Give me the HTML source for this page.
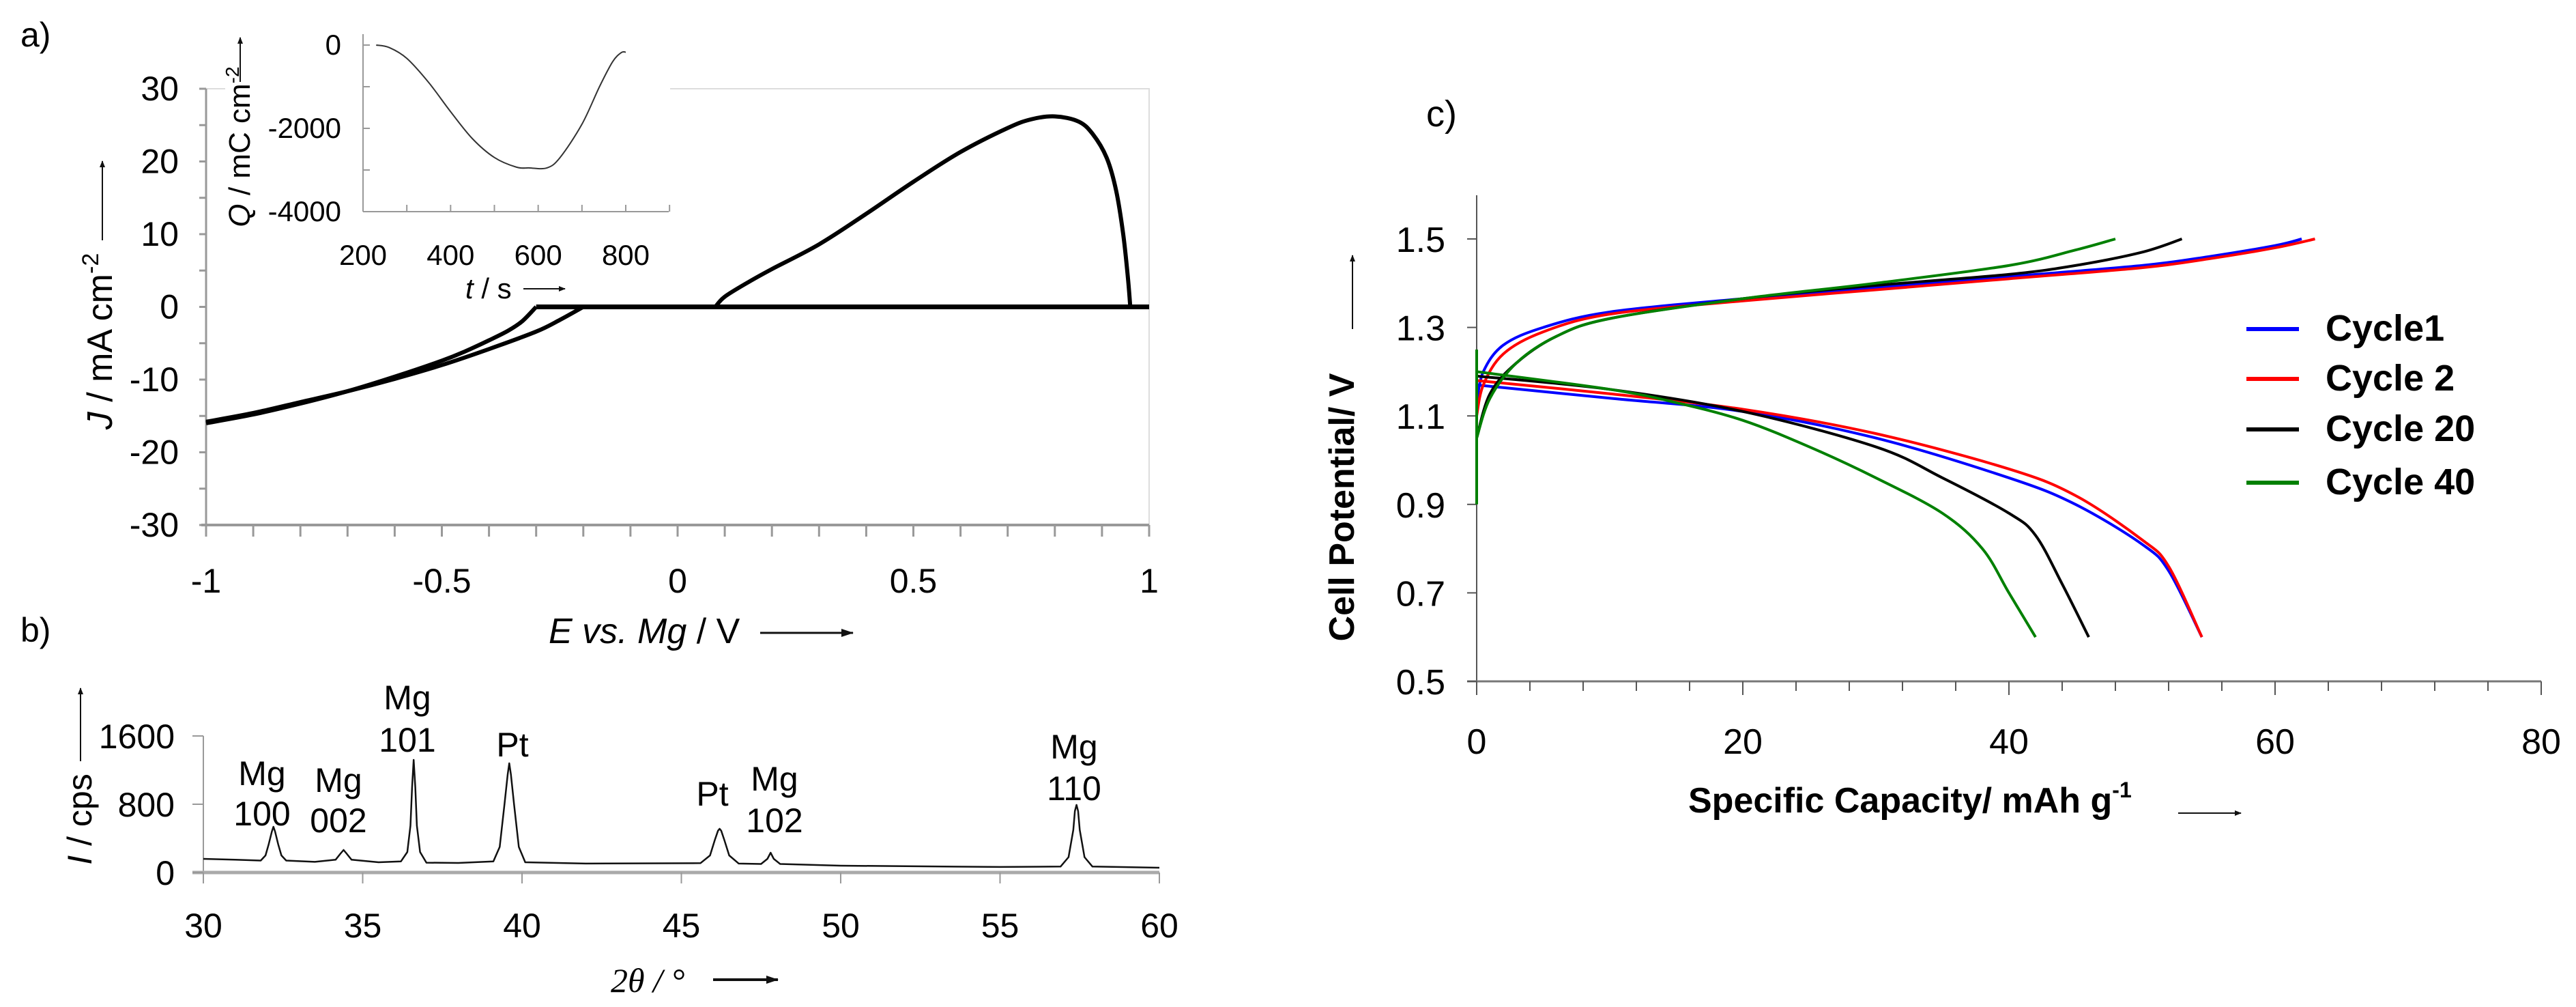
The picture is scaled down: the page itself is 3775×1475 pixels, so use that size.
<!DOCTYPE html>
<html><head><meta charset="utf-8"><style>
body{margin:0;background:#fff}
svg{display:block;font-family:"Liberation Sans Narrow","Liberation Sans",sans-serif}
</style></head><body>
<svg id="fig" width="3775" height="1475" viewBox="0 0 3775 1475" xmlns="http://www.w3.org/2000/svg">
<defs><marker id="ar" markerWidth="10" markerHeight="8" refX="9" refY="4" orient="auto" markerUnits="userSpaceOnUse" viewBox="0 0 10 8"><path d="M0,0L10,4L0,8z" fill="#111"/></marker>
<marker id="ar2" markerWidth="18" markerHeight="12" refX="17" refY="6" orient="auto" markerUnits="userSpaceOnUse" viewBox="0 0 18 12"><path d="M0,0L18,6L0,12z" fill="#111"/></marker></defs>
<g id="ga"></g>
<g id="gi"></g>
<g id="gb"></g>
<g id="gc"></g>
</svg>
<script>
// ---- Panel a: CV data ----
const cvBranchA_E=[-1,-0.9,-0.8,-0.7,-0.6,-0.5,-0.45,-0.4,-0.36,-0.33,-0.3];
const cvBranchA_J=[-16,-14.8,-13.3,-11.6,-9.6,-7.4,-6.1,-4.6,-3.3,-2,0];
const cvBranchB_E=[-1,-0.9,-0.8,-0.7,-0.6,-0.5,-0.4,-0.3,-0.25,-0.2];
const cvBranchB_J=[-15.8,-14.6,-13.1,-11.6,-9.9,-8,-5.8,-3.4,-1.8,0];
const cvAnodic_E=[0.08,0.1,0.15,0.2,0.3,0.4,0.5,0.6,0.7,0.75,0.8,0.85,0.88,0.91,0.93,0.945,0.955,0.96];
const cvAnodic_J=[0,1.4,3.4,5.2,8.6,12.8,17.2,21.3,24.6,25.8,26.2,25.5,23.8,20.5,16,10,4,0];
const cvZero_E=[-0.3,1];
const aXTicks=[-1,-0.5,0,0.5,1], aYTicks=[30,20,10,0,-10,-20,-30];
// inset
const insetT=[230,260,300,350,400,450,500,550,580,620,650,700,740,770,790,800];
const insetQ=[0,-60,-320,-900,-1600,-2250,-2700,-2930,-2950,-2950,-2700,-1900,-1000,-400,-180,-170];
const insetXTicks=[200,400,600,800], insetYTicks=[0,-2000,-4000];
// ---- Panel b: XRD ----
const xrdAngle=[30,31,31.8,31.95,32.05,32.15,32.2,32.25,32.35,32.45,32.6,33.5,34.15,34.3,34.4,34.5,34.65,35.5,36.2,36.4,36.5,36.55,36.6,36.65,36.7,36.8,37,38,39.1,39.3,39.45,39.55,39.6,39.65,39.75,39.9,40.1,42,45.6,45.9,46.05,46.15,46.2,46.25,46.35,46.5,46.8,47.5,47.7,47.8,47.9,48.1,50,55,56.9,57.15,57.3,57.35,57.4,57.45,57.5,57.65,57.9,60];
const xrdCps=[160,150,140,200,330,480,536,480,330,200,140,125,150,220,264,220,150,120,130,240,550,1000,1320,1000,550,240,115,112,130,300,800,1150,1280,1150,800,300,120,105,110,200,380,490,512,490,380,200,105,100,160,232,160,100,80,65,70,180,500,720,792,720,500,180,70,56];
const bXTicks=[30,35,40,45,50,55,60], bYTicks=[0,800,1600];
// ---- Panel c: cycling ----
const cyc1ChgX=[0,0.5,2,5,10,20,30,40,50,55,60,62];
const cyc1ChgY=[1.13,1.2,1.26,1.3,1.335,1.365,1.39,1.415,1.44,1.46,1.485,1.5];
const cyc2ChgX=[0,0.5,2,5,10,20,30,40,50,55,60,63];
const cyc2ChgY=[1.1,1.17,1.24,1.29,1.33,1.36,1.385,1.41,1.435,1.455,1.48,1.5];
const cyc20ChgX=[0,1,3,6,10,20,30,40,45,50,53];
const cyc20ChgY=[1.05,1.15,1.22,1.28,1.32,1.365,1.395,1.42,1.44,1.47,1.5];
const cyc40ChgX=[0,1,3,6,10,20,30,40,45,48];
const cyc40ChgY=[1.05,1.14,1.22,1.28,1.32,1.365,1.4,1.44,1.475,1.5];
const cyc40StartX=[0,0], cyc40StartY=[0.9,1.25];
const cyc1DisX=[0,10,20,30,40,45,50,52,54.5];
const cyc1DisY=[1.17,1.14,1.11,1.05,0.96,0.9,0.81,0.75,0.6];
const cyc2DisX=[0,10,20,30,40,45,50,52,54.5];
const cyc2DisY=[1.18,1.15,1.115,1.06,0.98,0.92,0.82,0.76,0.6];
const cyc20DisX=[0,10,20,30,35,40,42,44,46];
const cyc20DisY=[1.19,1.16,1.11,1.03,0.96,0.88,0.83,0.72,0.6];
const cyc40DisX=[0,10,15,20,25,30,35,38,40,42];
const cyc40DisY=[1.2,1.16,1.13,1.09,1.03,0.96,0.88,0.8,0.7,0.6];
const cXTicks=[0,20,40,60,80], cYTicks=[0.5,0.7,0.9,1.1,1.3,1.5];
const legendLabels=["Cycle1","Cycle 2","Cycle 20","Cycle 40"];

const NS="http://www.w3.org/2000/svg";
function mk(par,tag,at,txt){const e=document.createElementNS(NS,tag);for(const k in at)e.setAttribute(k,at[k]);if(txt!==undefined)e.textContent=txt;par.appendChild(e);return e;}
function lin(d0,d1,r0,r1){return v=>r0+(v-d0)/(d1-d0)*(r1-r0);}
function pathD(xs,ys,fx,fy){return xs.map((x,i)=>(i?'L':'M')+fx(x).toFixed(1)+','+fy(ys[i]).toFixed(1)).join('');}
function smoothD(xs,ys,fx,fy){const p=xs.map((x,i)=>[fx(x),fy(ys[i])]);let d='M'+p[0][0]+','+p[0][1];for(let i=0;i<p.length-1;i++){const p0=p[i-1]||p[i],p1=p[i],p2=p[i+1],p3=p[i+2]||p2;const c1=[p1[0]+(p2[0]-p0[0])/6,p1[1]+(p2[1]-p0[1])/6],c2=[p2[0]-(p3[0]-p1[0])/6,p2[1]-(p3[1]-p1[1])/6];d+='C'+c1.join(',')+' '+c2.join(',')+' '+p2.join(',');}return d;}

// ===== Panel a =====
const ga=document.getElementById('ga');
const ax=lin(-1,1,302,1684), ay=lin(30,-30,130,769);
let e;
e=mk(ga,'rect',{x:302,y:130,width:1382,height:639,fill:'none',stroke:'#ddd','stroke-width':2});

e=mk(ga,'line',{x1:302,y1:130,x2:302,y2:769,stroke:'#999','stroke-width':3});

e=mk(ga,'line',{x1:295,y1:769,x2:1684,y2:769,stroke:'#999','stroke-width':4});

for(let v=-1;v<=1.001;v+=0.1){mk(ga,'line',{x1:ax(v),y1:769,x2:ax(v),y2:786,stroke:'#999','stroke-width':3});}
for(let v=-30;v<=30;v+=5){mk(ga,'line',{x1:292,y1:ay(v),x2:302,y2:ay(v),stroke:'#999','stroke-width':3});}
aXTicks.forEach(v=>{e=mk(ga,'text',{x:ax(v),y:868,'font-size':50,'text-anchor':'middle'},String(v));});
aYTicks.forEach(v=>{e=mk(ga,'text',{x:262,y:ay(v)+17,'font-size':50,'text-anchor':'end'},String(v));});
[[cvBranchA_E,cvBranchA_J],[cvBranchB_E,cvBranchB_J],[cvAnodic_E,cvAnodic_J]].forEach((s,i)=>{e=mk(ga,'path',{d:smoothD(s[0],s[1],ax,ay),fill:'none',stroke:'#000','stroke-width':6,'stroke-linejoin':'round'});});
e=mk(ga,'line',{x1:ax(cvZero_E[0]),y1:ay(0),x2:ax(cvZero_E[1]),y2:ay(0),stroke:'#000','stroke-width':7});

e=mk(ga,'text',{x:30,y:68,'font-size':50},'a)');
e=mk(ga,'text',{x:0,y:0,'font-size':52,'text-anchor':'middle',transform:'translate(164,500) rotate(-90)'});

e.innerHTML='<tspan font-style="italic">J</tspan> / mA cm<tspan dy="-20" font-size="34">-2</tspan>';
e=mk(ga,'line',{x1:150,y1:352,x2:150,y2:236,stroke:'#111','stroke-width':2,'marker-end':'url(#ar)'});

e=mk(ga,'text',{x:804,y:942,'font-size':52});

e.innerHTML='<tspan font-style="italic">E vs. Mg</tspan> / V';
e=mk(ga,'line',{x1:1114,y1:927,x2:1250,y2:927,stroke:'#111','stroke-width':3,'marker-end':'url(#ar2)'});


// ===== Inset =====
const gi=document.getElementById('gi');
const ix=lin(200,800,532,917), iy=lin(0,-4000,66,310);
e=mk(gi,'rect',{x:330,y:40,width:652,height:92,fill:'#fff'});
e=mk(gi,'rect',{x:532,y:40,width:450,height:270,fill:'#fff'});
e=mk(gi,'line',{x1:532,y1:50,x2:532,y2:310,stroke:'#999','stroke-width':2});

e=mk(gi,'line',{x1:532,y1:310,x2:980,y2:310,stroke:'#999','stroke-width':2});

for(let v=200;v<=900;v+=100){mk(gi,'line',{x1:ix(v),y1:300,x2:ix(v),y2:310,stroke:'#999','stroke-width':2});}
for(let v=0;v>=-4000;v-=1000){mk(gi,'line',{x1:532,y1:iy(v),x2:542,y2:iy(v),stroke:'#999','stroke-width':2});}
insetXTicks.forEach(v=>{e=mk(gi,'text',{x:ix(v),y:388,'font-size':42,'text-anchor':'middle'},String(v));});
insetYTicks.forEach(v=>{e=mk(gi,'text',{x:500,y:iy(v)+14,'font-size':42,'text-anchor':'end'},String(v));});
e=mk(gi,'path',{d:smoothD(insetT,insetQ,ix,iy),fill:'none',stroke:'#333','stroke-width':2});

e=mk(gi,'text',{x:0,y:0,'font-size':44,'text-anchor':'middle',transform:'translate(366,215) rotate(-90)'});

e.innerHTML='<tspan font-style="italic">Q</tspan> / mC cm<tspan dy="-16" font-size="28">-2</tspan>';
e=mk(gi,'line',{x1:352,y1:120,x2:352,y2:55,stroke:'#111','stroke-width':2,'marker-end':'url(#ar)'});
e=mk(gi,'text',{x:682,y:437,'font-size':42});
e.innerHTML='<tspan font-style="italic">t</tspan> / s';
e=mk(gi,'line',{x1:767,y1:423,x2:828,y2:423,stroke:'#111','stroke-width':2,'marker-end':'url(#ar)'});

// ===== Panel b =====
const gb=document.getElementById('gb');
const bx=lin(30,60,298,1699), by=lin(0,800,1278,1178);
e=mk(gb,'line',{x1:298,y1:1078,x2:298,y2:1290,stroke:'#999','stroke-width':2});

e=mk(gb,'line',{x1:282,y1:1278,x2:1699,y2:1278,stroke:'#aaa','stroke-width':5});

bXTicks.forEach(v=>{mk(gb,'line',{x1:bx(v),y1:1278,x2:bx(v),y2:1294,stroke:'#999','stroke-width':2});e=mk(gb,'text',{x:bx(v),y:1373,'font-size':50,'text-anchor':'middle'},String(v));});
bYTicks.forEach(v=>{mk(gb,'line',{x1:282,y1:by(v),x2:298,y2:by(v),stroke:'#999','stroke-width':2});e=mk(gb,'text',{x:256,y:by(v)+18,'font-size':50,'text-anchor':'end'},String(v));});
e=mk(gb,'path',{d:pathD(xrdAngle,xrdCps,bx,by),fill:'none',stroke:'#111','stroke-width':2.5,'stroke-linejoin':'round'});

const peakLabels=[[384,1150,'Mg','100',1209],[496,1160,'Mg','002',1219],[597,1039,'Mg','101',1101],[751,1108,'Pt'],[1044,1180,'Pt'],[1135,1158,'Mg','102',1219],[1574,1111,'Mg','110',1172]];
peakLabels.forEach(p=>{e=mk(gb,'text',{x:p[0],y:p[1],'font-size':50,'text-anchor':'middle'},p[2]);
 if(p[3]){e=mk(gb,'text',{x:p[0],y:p[4],'font-size':50,'text-anchor':'middle'},p[3]);}});
e=mk(gb,'text',{x:30,y:940,'font-size':50},'b)');
e=mk(gb,'text',{x:0,y:0,'font-size':50,'text-anchor':'middle',transform:'translate(134,1200) rotate(-90)'});

e.innerHTML='<tspan font-style="italic">I</tspan> / cps';
e=mk(gb,'line',{x1:118,y1:1115,x2:118,y2:1008,stroke:'#111','stroke-width':2,'marker-end':'url(#ar)'});
e=mk(gb,'text',{x:895,y:1453,'font-size':50,'font-style':'italic','font-family':'Liberation Serif,serif'},'2θ / °');

e=mk(gb,'line',{x1:1045,y1:1435,x2:1140,y2:1435,stroke:'#111','stroke-width':4,'marker-end':'url(#ar2)'});

// ===== Panel c =====
const gc=document.getElementById('gc');
const cx=lin(0,80,2164,3724), cy=lin(0.5,1.5,998,350);
e=mk(gc,'line',{x1:2164,y1:286,x2:2164,y2:1010,stroke:'#555','stroke-width':2});

e=mk(gc,'line',{x1:2150,y1:998,x2:3724,y2:998,stroke:'#777','stroke-width':3});

for(let v=0;v<=80;v+=4){mk(gc,'line',{x1:cx(v),y1:998,x2:cx(v),y2:v%20?1012:1018,stroke:'#555','stroke-width':2});}
cXTicks.forEach(v=>{e=mk(gc,'text',{x:cx(v),y:1104,'font-size':52,'text-anchor':'middle'},String(v));});
cYTicks.forEach(v=>{mk(gc,'line',{x1:2150,y1:cy(v),x2:2164,y2:cy(v),stroke:'#555','stroke-width':2});e=mk(gc,'text',{x:2118,y:cy(v)+19,'font-size':52,'text-anchor':'end'},v.toFixed(1));});
const colors=['#0000ff','#ff0000','#000000','#008000'];
const series=[[cyc1ChgX,cyc1ChgY,cyc1DisX,cyc1DisY],[cyc2ChgX,cyc2ChgY,cyc2DisX,cyc2DisY],[cyc20ChgX,cyc20ChgY,cyc20DisX,cyc20DisY],[cyc40ChgX,cyc40ChgY,cyc40DisX,cyc40DisY]];
series.forEach((s,i)=>{
 e=mk(gc,'path',{d:smoothD(s[0],s[1],cx,cy),fill:'none',stroke:colors[i],'stroke-width':4});
 
 e=mk(gc,'path',{d:smoothD(s[2],s[3],cx,cy),fill:'none',stroke:colors[i],'stroke-width':4});
 
 const ly=[482,555,629,707][i];
 e=mk(gc,'line',{x1:3292,y1:ly,x2:3369,y2:ly,stroke:colors[i],'stroke-width':6});
 
 e=mk(gc,'text',{x:3408,y:ly+17,'font-size':54,'font-weight':'bold'},legendLabels[i]);
 
});
e=mk(gc,'path',{d:pathD(cyc40StartX,cyc40StartY,cx,cy),fill:'none',stroke:'#008000','stroke-width':4});

e=mk(gc,'text',{x:2090,y:185,'font-size':54},'c)');
e=mk(gc,'text',{x:0,y:0,'font-size':52,'font-weight':'bold','text-anchor':'middle',transform:'translate(1984,743) rotate(-90)','font-family':'Liberation Sans,sans-serif'},'Cell Potential/ V');

e=mk(gc,'line',{x1:1982,y1:482,x2:1982,y2:374,stroke:'#111','stroke-width':2,'marker-end':'url(#ar)'});
e=mk(gc,'text',{x:2474,y:1190,'font-size':52,'font-weight':'bold'});

e.innerHTML='Specific Capacity/ mAh g<tspan dy="-22" font-size="32">-1</tspan>';
e=mk(gc,'line',{x1:3192,y1:1191,x2:3284,y2:1191,stroke:'#111','stroke-width':2,'marker-end':'url(#ar)'});
</script>
</body></html>
